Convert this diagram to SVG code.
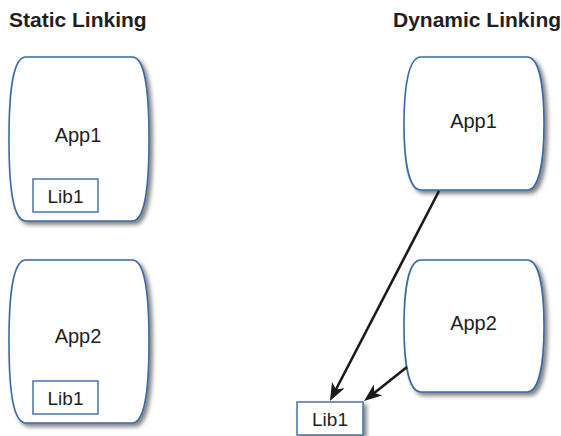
<svg xmlns="http://www.w3.org/2000/svg" width="561" height="436" viewBox="0 0 561 436">
<style>
.title{font-family:"Liberation Sans",Arial,sans-serif;font-weight:bold;font-size:21px;fill:#231f20}
.lbl{font-family:"Liberation Sans",Arial,sans-serif;font-size:20px;fill:#231f20;text-anchor:middle}
.lib{font-family:"Liberation Sans",Arial,sans-serif;font-size:19px;fill:#231f20;text-anchor:middle}
.app{fill:#fff;stroke:#3b68a8;stroke-width:1.6;filter:url(#sh)}
.box{fill:#fff;stroke:#3b68a8;stroke-width:1.4}
.edge{stroke:#1a1a1a;stroke-width:2.6;fill:none;marker-end:url(#ah)}
</style>
<defs>
<filter id="sh" x="-10%" y="-10%" width="130%" height="130%">
<feDropShadow dx="3" dy="3" stdDeviation="2" flood-color="#000" flood-opacity="0.5"/>
</filter>
<marker id="ah" viewBox="0 0 18 14" markerWidth="18" markerHeight="14" refX="9" refY="7" orient="auto" markerUnits="userSpaceOnUse">
<path d="M0,0 L18,7 L0,14 L5,7 Z" fill="#1a1a1a"/>
</marker>
</defs>
<text class="title" x="9" y="27">Static Linking</text>
<text class="title" x="393" y="27">Dynamic Linking</text>
<g id="static-app1">
<path class="app" d="M26,57 H132 C144,57 149,85 149,139 C149,193 144,221 132,221 H26 C14,221 9,193 9,139 C9,85 14,57 26,57 Z"/>
<text class="lbl" x="78" y="142">App1</text>
<rect class="box" x="33" y="179" width="65" height="33"/>
<text class="lib" x="65.5" y="203">Lib1</text>
</g>
<g id="static-app2">
<path class="app" d="M26,260 H132 C144,260 149,288 149,341.5 C149,395 144,423 132,423 H26 C14,423 9,395 9,341.5 C9,288 14,260 26,260 Z"/>
<text class="lbl" x="78" y="343">App2</text>
<rect class="box" x="33" y="381" width="65" height="33"/>
<text class="lib" x="65.5" y="405">Lib1</text>
</g>
<g id="dyn-app1">
<path class="app" d="M421,57 H527 C539,57 544,85 544,123.5 C544,162 539,190 527,190 H421 C409,190 404,162 404,123.5 C404,85 409,57 421,57 Z"/>
<text class="lbl" x="473.5" y="128">App1</text>
</g>
<g id="dyn-app2">
<path class="app" d="M421,260 H527 C539,260 544,288 544,326 C544,364 539,392 527,392 H421 C409,392 404,364 404,326 C404,288 409,260 421,260 Z"/>
<text class="lbl" x="473.5" y="330">App2</text>
</g>
<g id="dyn-lib1">
<rect class="box" x="297" y="402" width="66" height="33" style="filter:url(#sh)"/>
<text class="lib" x="330" y="426">Lib1</text>
</g>
<g id="connectors">
<line class="edge" x1="439" y1="191" x2="334.1" y2="393"/>
<line class="edge" x1="407" y1="367" x2="371.1" y2="395.5"/>
</g>
</svg>
